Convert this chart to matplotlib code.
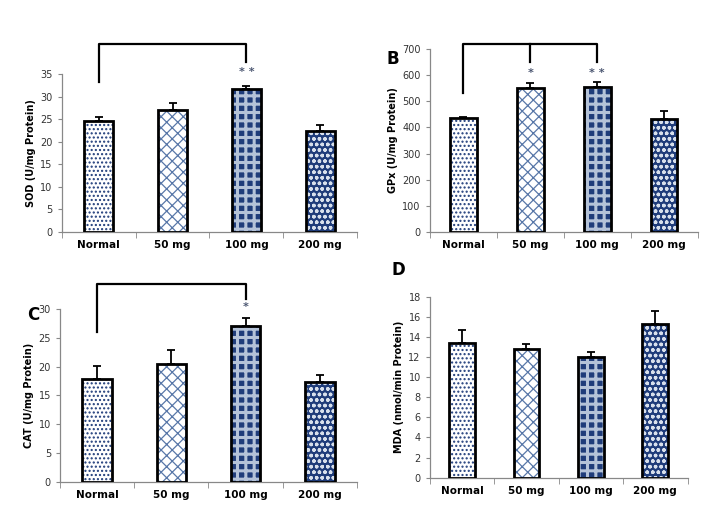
import numpy as np
import matplotlib
matplotlib.use("Agg")
import matplotlib.pyplot as plt

groups = ["Normal", "50 mg", "100 mg", "200 mg"]

sod = [24.7, 27.1, 31.7, 22.5]
sod_err = [0.8, 1.6, 0.8, 1.3]
gpx = [437, 550, 555, 432]
gpx_err = [5, 20, 20, 33]
cat = [17.8, 20.4, 27.1, 17.4]
cat_err = [2.3, 2.5, 1.3, 1.2]
mda = [13.4, 12.8, 12.0, 15.3]
mda_err = [1.3, 0.5, 0.5, 1.3]

navy = "#1F3C7A"
steel = "#5877A8"
styles = [
    dict(face="white", hatch="....", hcol=navy, hlw=1.0),
    dict(face="white", hatch="xxx", hcol=steel, hlw=0.9),
    dict(face=navy, hatch="++", hcol="#B4C2D8", hlw=2.2),
    dict(face=navy, hatch="ooo", hcol="#D8E0EC", hlw=1.0),
]

fig = plt.figure(figsize=(7.14, 5.18), dpi=100)


def panel(rect, vals, errs, ymax, ystep, ylabel, letter=None, letter_xy=None):
    ax = fig.add_axes(rect)
    x = np.arange(len(groups))
    # patterned fill first, black outline on top
    for i, st in enumerate(styles):
        plt.rcParams["hatch.linewidth"] = st["hlw"]
        ax.bar(x[i], vals[i], width=0.4, color=st["face"], edgecolor=st["hcol"],
               hatch=st["hatch"], linewidth=0, zorder=2)
    ax.bar(x, vals, width=0.4, color="none", edgecolor="black", linewidth=2, zorder=3)
    ax.errorbar(x, vals, yerr=[[0] * len(vals), errs], fmt="none", ecolor="black",
                elinewidth=1.3, capsize=3, capthick=1.3, zorder=4)
    ax.set_xlim(-0.5, len(groups) - 0.5)
    ax.set_ylim(0, ymax)
    ax.set_yticks(np.arange(0, ymax + ystep / 2, ystep))
    ax.set_xticks(x)
    ax.set_xticklabels(groups, fontsize=7.5, fontweight="bold")
    ax.set_xticks(np.arange(-0.5, len(groups) + 0.5, 1), minor=True)
    ax.tick_params(axis="x", which="major", length=0, pad=6)
    ax.tick_params(axis="x", which="minor", length=4, color="#888888", direction="out")
    ax.tick_params(axis="y", length=3, color="#888888", labelsize=7, labelcolor="#333333")
    for s in ["top", "right"]:
        ax.spines[s].set_visible(False)
    for s in ["left", "bottom"]:
        ax.spines[s].set_color("#888888")
        ax.spines[s].set_linewidth(0.9)
    ax.set_ylabel(ylabel, fontsize=7, fontweight="bold", labelpad=3)
    if letter:
        fig.text(letter_xy[0], letter_xy[1], letter, fontsize=12, fontweight="bold",
                 ha="center", va="center")
    return ax


def bracket(ax, xs, drops, top, stars, star_y):
    ax.plot([xs[0], xs[0], xs[-1], xs[-1]], [drops[0], top, top, drops[-1]],
            color="black", lw=1.6, clip_on=False, zorder=5)
    for xm, dm in zip(xs[1:-1], drops[1:-1]):
        ax.plot([xm, xm], [top, dm], color="black", lw=1.6, clip_on=False, zorder=5)
    for xs_, st in stars:
        ax.text(xs_, star_y, st, ha="center", va="center", fontsize=8,
                fontweight="bold", color="#4A5570", clip_on=False)


axA = panel([0.0864, 0.5527, 0.414, 0.3039], sod, sod_err, 35, 5, "SOD (U/mg Protein)")
bracket(axA, [0, 2], [33.3, 37.7], 41.7, [(2, "* *")], 35.6)

axB = panel([0.602, 0.5527, 0.375, 0.3521], gpx, gpx_err, 700, 100, "GPx (U/mg Protein)",
            "B", (393 / 714, 1 - 59 / 518))
bracket(axB, [0, 1, 2], [532, 651, 651], 720, [(1, "*"), (2, "* *")], 610)

axC = panel([0.084, 0.0701, 0.416, 0.3334], cat, cat_err, 30, 5, "CAT (U/mg Protein)",
            "C", (33 / 714, 1 - 315 / 518))
bracket(axC, [0, 2], [26, 31.8], 34.4, [(2, "*")], 30.4)

axD = panel([0.602, 0.0778, 0.361, 0.3494], mda, mda_err, 18, 2, "MDA (nmol/min Protein)",
            "D", (398 / 714, 1 - 270 / 518))

fig.savefig("out.png", dpi=100)
